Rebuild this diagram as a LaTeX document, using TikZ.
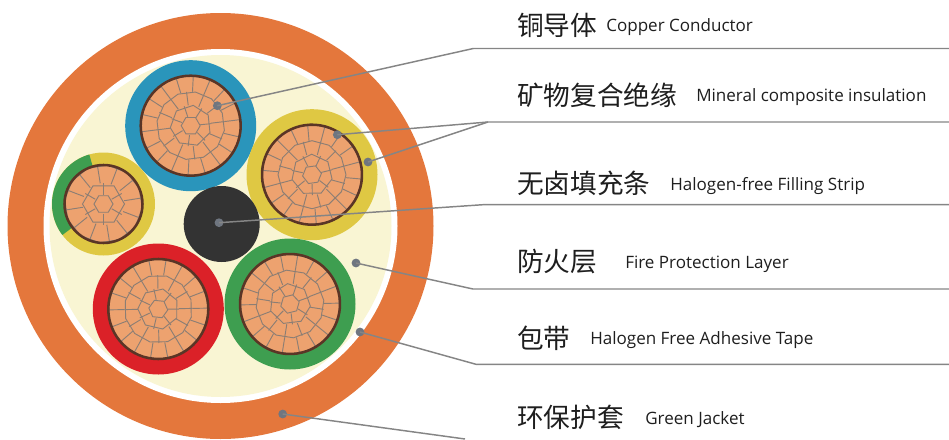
\documentclass[tikz,border=0pt]{standalone}
\usepackage{fontspec}
\setmainfont{Open Sans}
\newfontfamily\cjk{Noto Sans CJK SC}
\definecolor{jacket}{HTML}{E4773C}
\definecolor{cream}{HTML}{F9F5D3}
\definecolor{cblue}{HTML}{2A95BB}
\definecolor{cyellow}{HTML}{DFC843}
\definecolor{cgreen}{HTML}{3E9E50}
\definecolor{cred}{HTML}{DB2128}
\definecolor{cblack}{HTML}{333333}
\definecolor{copper}{HTML}{EDA26F}
\definecolor{strand}{HTML}{8C7E74}
\definecolor{sheath}{HTML}{5A3526}
\definecolor{leader}{HTML}{858585}
\definecolor{dotc}{HTML}{6F7680}
\definecolor{txt}{HTML}{1E1E1E}
\tikzset{
  cnlabel/.style={anchor=west,inner sep=0pt,text=txt,font=\cjk\fontsize{20}{24}\selectfont},
  enlabel/.style={anchor=west,inner sep=0pt,text=txt,font=\fontsize{12.78}{15}\selectfont},
  dotnode/.style={circle,fill=dotc,draw=none,minimum size=6.6pt,inner sep=0pt},
  leaderline/.style={draw=leader,line width=1.1pt},
  strandline/.style={draw=strand,line width=.7pt},
}
% one ring of strands: inner radius, outer radius, cells, start angle
\newcommand{\strandring}[4]{%
  \pgfmathsetmacro{\stepang}{360/#3}%
  \draw[strandline] ({#4}:#2)
    \foreach \k in {1,...,#3}{ -- ({#4+\k*\stepang}:#2) } -- cycle;
  \foreach \k in {1,...,#3}{
    \draw[strandline] ({#4+\k*\stepang+\stepang/2}:#1) -- ({#4+\k*\stepang+\stepang/2}:#2);
  }%
}
\newcommand{\hexcore}{\draw[strandline] (0:9.5) -- (60:9.5) -- (120:9.5) -- (180:9.5) -- (240:9.5) -- (300:9.5) -- cycle;}
% large conductor (r=50)
\newcommand{\bigcore}[3]{%
  \begin{scope}[shift={(#1,#2)},rotate=#3]
    \fill[copper] (0,0) circle (50);
    \strandring{34}{50}{18}{3}
    \strandring{20.5}{34}{12}{8}
    \strandring{9.5}{20.5}{7}{20}
    \hexcore
    \draw[sheath,line width=1.9pt] (0,0) circle (50);
  \end{scope}}
% small conductor (r=39)
\newcommand{\smallcore}[3]{%
  \begin{scope}[shift={(#1,#2)},rotate=#3]
    \fill[copper] (0,0) circle (39);
    \strandring{21}{39}{12}{6}
    \strandring{9.5}{21}{6}{0}
    \hexcore
    \draw[sheath,line width=1.9pt] (0,0) circle (39);
  \end{scope}}
\begin{document}
\begin{tikzpicture}[x=.75pt,y=-.75pt]
\useasboundingbox (0,0) rectangle (949,439);
% jacket, tape, fire protection layer
\fill[jacket] (220.5,226) circle (213);
\fill[white] (220.5,226) circle (177);
\fill[cream] (220.5,226) circle (171);
% cables
\fill[cblue] (190.7,125.7) circle (65.5);
\bigcore{190.7}{125.7}{0}
\fill[cyellow] (312,174.7) circle (65.5);
\bigcore{312}{174.7}{8}
\fill[cred] (158.3,309) circle (65.5);
\bigcore{158.3}{309}{-6}
\fill[cgreen] (290,304) circle (65.5);
\bigcore{290}{304}{14}
\fill[cyellow] (103.5,204) circle (51.5);
\fill[cgreen,shift={(103.5,204)}] (0,0) -- plot[domain=106:217,samples=40] ({51.5*cos(\x)},{-51.5*sin(\x)}) -- cycle;
\smallcore{103.5}{204}{0}
\fill[cblack] (221.7,224) circle (38);
% leader points
\node[dotnode] (dcopper) at (217.3,105.7) {};
\node[dotnode] (dminA) at (337.3,134.7) {};
\node[dotnode] (dminB) at (368,162) {};
\node[dotnode] (dfill) at (219,222.7) {};
\node[dotnode] (dfire) at (356,263) {};
\node[dotnode] (dtape) at (360,332) {};
\node[dotnode] (djacket) at (282.7,414) {};
\coordinate (bcopper) at (473.3,48.5);
\coordinate (ecopper) at (949,48.5);
\coordinate (bmin) at (488,122);
\coordinate (emin) at (949,122);
\coordinate (bfill) at (483,204.7);
\coordinate (efill) at (949,204.7);
\coordinate (bfire) at (473,289);
\coordinate (efire) at (949,289);
\coordinate (btape) at (476,364.3);
\coordinate (etape) at (949,364.3);
\coordinate (ejacket) at (465,439);
\draw[leaderline] (dcopper.center) -- (bcopper) -- (ecopper);
\draw[leaderline] (dminA.center) -- (bmin) -- (emin);
\draw[leaderline] (dminB.center) -- (bmin);
\draw[leaderline] (dfill.center) -- (bfill) -- (efill);
\draw[leaderline] (dfire.center) -- (bfire) -- (efire);
\draw[leaderline] (dtape.center) -- (btape) -- (etape);
\draw[leaderline] (djacket.center) -- (ejacket);
% labels
\node[cnlabel] (c1) at (517,25.5) {铜导体};
\node[enlabel] (e1) at (606,27) {Copper Conductor};
\node[cnlabel] (c2) at (517,95.5) {矿物复合绝缘};
\node[enlabel] (e2) at (696,97) {Mineral composite insulation};
\node[cnlabel] (c3) at (517,183.5) {无卤填充条};
\node[enlabel] (e3) at (670,186) {Halogen-free Filling Strip};
\node[cnlabel] (c4) at (517,261.5) {防火层};
\node[enlabel] (e4) at (625,264) {Fire Protection Layer};
\node[cnlabel] (c5) at (517,338.5) {包带};
\node[enlabel] (e5) at (590,340) {Halogen Free Adhesive Tape};
\node[cnlabel] (c6) at (517,417.5) {环保护套};
\node[enlabel] (e6) at (645,420) {Green Jacket};
\end{tikzpicture}
\end{document}
